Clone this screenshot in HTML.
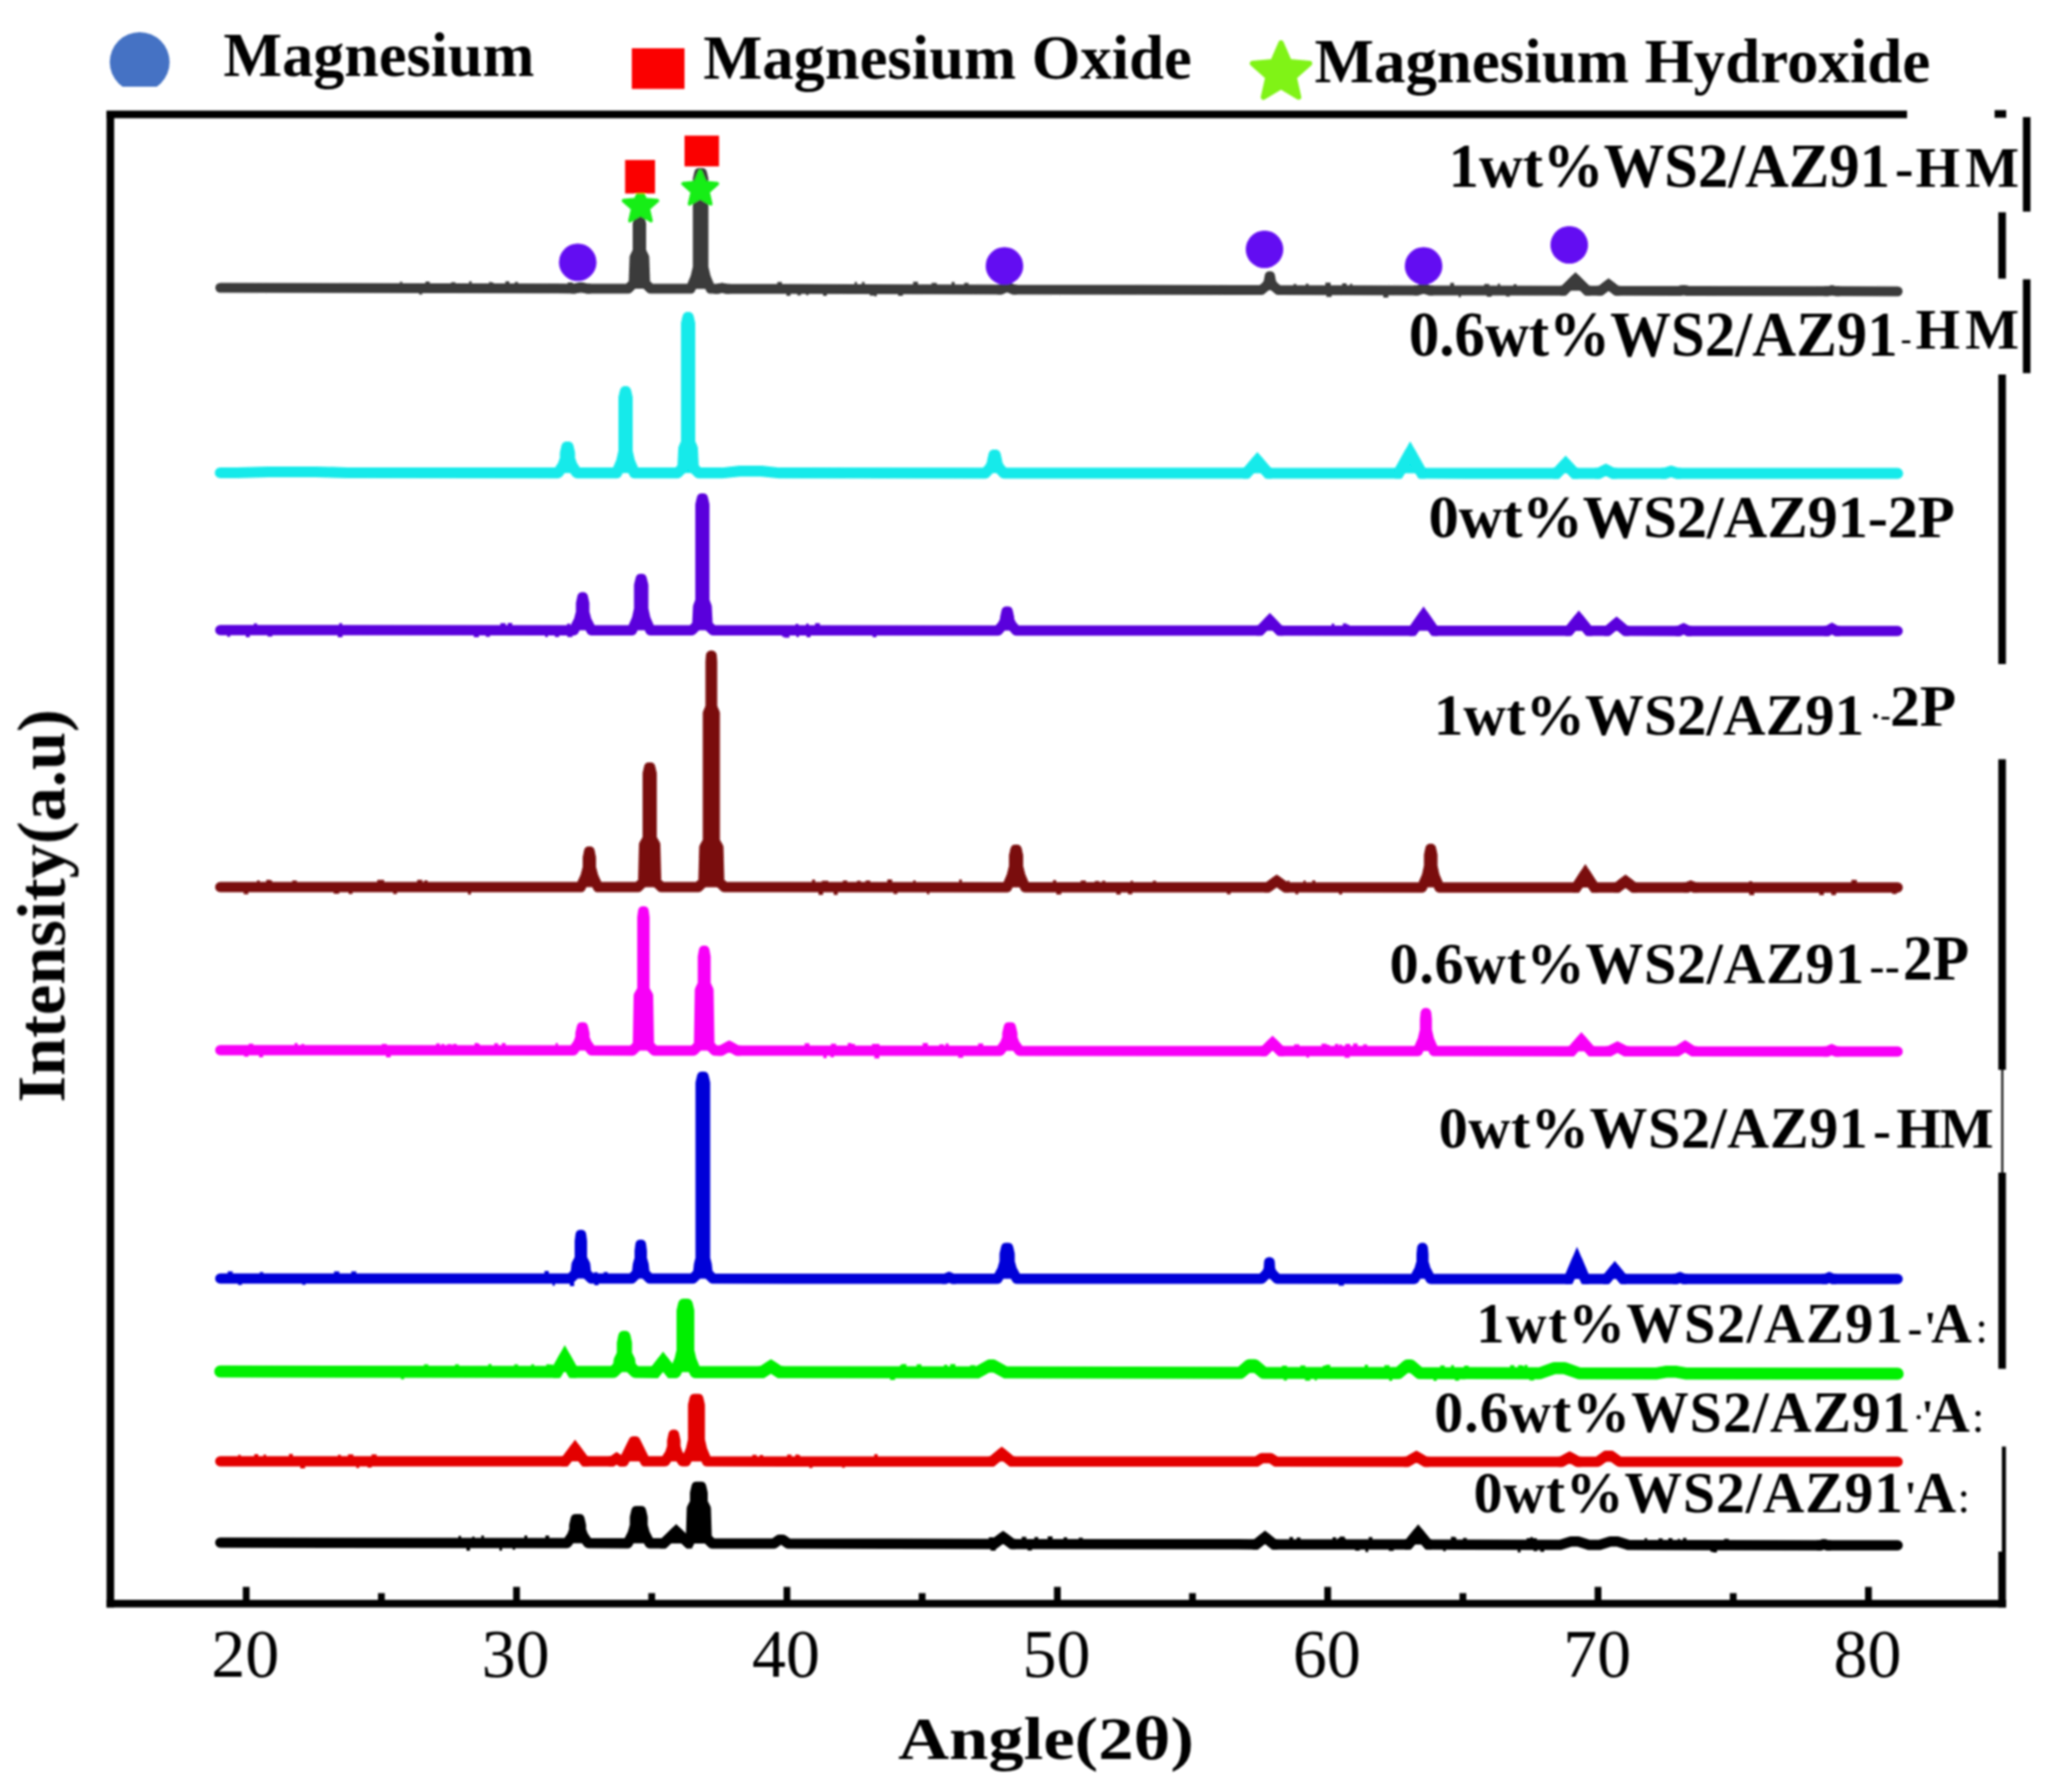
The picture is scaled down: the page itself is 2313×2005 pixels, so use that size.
<!DOCTYPE html>
<html lang="en"><head><meta charset="utf-8"><title>XRD patterns</title>
<style>
html,body{margin:0;padding:0;background:#fff;}
body{width:2313px;height:2005px;overflow:hidden;}
svg{display:block;}
text{font-family:"Liberation Serif",serif;fill:#000;}
.b{font-weight:bold;}
</style></head><body>
<svg width="2313" height="2005" viewBox="0 0 2313 2005">
<defs><filter id="soft" x="-2%" y="-2%" width="104%" height="104%"><feGaussianBlur stdDeviation="1.0"/></filter></defs>
<rect width="2313" height="2005" fill="#ffffff"/>
<g filter="url(#soft)">
<g stroke="#000" fill="none" stroke-width="8.5">
<path d="M123.5 124 V1798.6"/>
<path d="M119.3 128 H2134"/>
<path d="M2232 127.5 H2245"/>
<path d="M119.3 1794.3 H2244.9"/>
<path d="M2267.9 131 V236.8 M2267.9 312.6 V417.4"/>
<path d="M2240.4 237.6 V311.8 M2240.4 419 V743 M2240.4 849.5 V1197 M2240.4 1312 V1531.4 M2240.4 1736 V1798.6"/>
</g>
<path d="M2240.6 1197 V1312" stroke="#000" stroke-width="2.2" fill="none"/>
<path d="M2242.4 1618.5 V1736" stroke="#000" stroke-width="4.6" fill="none"/>
<path d="M275.5 1775.5 V1794 M578 1775.5 V1794 M880.6 1775.5 V1794 M1183.2 1775.5 V1794 M1485.7 1775.5 V1794 M1788.2 1775.5 V1794 M2090.8 1775.5 V1794 M426.8 1782.5 V1794 M729.3 1782.5 V1794 M1031.9 1782.5 V1794 M1334.4 1782.5 V1794 M1637 1782.5 V1794 M1939.5 1782.5 V1794" stroke="#000" stroke-width="7.6" fill="none"/>
<path d="M246.5 322 L643 322.9 L650 321.4 L657 322.9 L703 323 L709 317 L710 288 L713.5 281 L713.5 250.5 L715.1 243.5 L715.9 243.5 L717.5 250.5 L717.5 281 L721 288 L722 317 L728 323 L772.8 323.1 L778.2 310.1 L780.8 299.1 L780.8 200.5 L782.4 193.5 L785.6 193.5 L787.2 200.5 L787.2 299.1 L789.8 310.1 L795.2 323.1 L803 323.2 L808 322.2 L813 323.2 L1120 323.9 L1127 320.9 L1134 323.9 L1411.5 324.5 L1417 319.9 L1419.5 316 L1419.5 316 L1420.7 309 L1421.3 309 L1422.5 316 L1422.5 316 L1425 319.9 L1430.5 324.5 L1586 324.9 L1593 322.6 L1600 324.9 L1750 325.2 L1763 312.2 L1776 325.2 L1791 325.3 L1800 318.3 L1809 325.3 L1879 325.5 L1884 324.5 L1889 325.5 L2045 325.8 L2050 324.8 L2055 325.8 L2123.5 326" fill="#3b3b3b" stroke="#3b3b3b" stroke-width="11" stroke-linejoin="round" stroke-linecap="round"/><path d="M504.8 315.7h4.8v2.9h-4.8zM547.2 315.5h2.7v3.2h-2.7zM447.5 315.2h2.7v3.3h-2.7zM524.9 314.8h2.9v3.8h-2.9zM565.5 314.7h4.5v3.9h-4.5zM635.3 316.1h5.5v2.8h-5.5zM468.9 326.5h3.6v2.9h-3.6zM476.1 315h4.7v3.5h-4.7zM549.5 315.9h2.7v2.8h-2.7zM576.1 315.4h3.6v3.3h-3.6zM973.3 327.5h5.3v3.2h-5.3zM921 327.4h4.3v3.7h-4.3zM1042.4 316.5h5.9v3.2h-5.9zM964.5 315.5h3v4.1h-3zM869.8 315.4h5.2v3.9h-5.2zM1078.9 316.5h4.9v3.3h-4.9zM1005 327.6h5.4v3.5h-5.4zM978.5 327.6h2.7v3.9h-2.7zM1021.8 315.2h5.4v4.5h-5.4zM956.4 315.6h2.6v3.9h-2.6zM902 327.4h2.7v2.9h-2.7zM892.3 327.4h3.9v3.1h-3.9zM880.1 327.4h4.4v3.5h-4.4zM1064.8 315.5h3.5v4.3h-3.5zM1483.1 316.3h5.9v4.3h-5.9zM1461.1 317.5h3.3v3.1h-3.3zM1510.7 317.5h2.5v3.2h-2.5zM1484.3 328.6h5.8v3.7h-5.8zM1501.9 316.9h4.9v3.8h-4.9zM1547.9 328.8h5.6v4.1h-5.6zM1487.1 328.6h2.9v3.4h-2.9zM1447.5 317.7h3.2v2.8h-3.2zM1660.8 318.2h2.5v2.8h-2.5zM1632.2 329h2.6v3.4h-2.6zM1693.7 318.1h3.4v3h-3.4zM1663.7 329h5.5v2.9h-5.5zM1675.9 317.5h2.8v3.6h-2.8zM1661.1 317.8h5.4v3.2h-5.4zM1622.8 316.5h4.3v4.4h-4.3zM1685.2 329.1h4.3v2.7h-4.3z" fill="#3b3b3b"/><path d="M639 322.9 L643 322.9 L650 321.4 L657 322.9 L661 322.9 M799 323.2 L803 323.2 L808 322.2 L813 323.2 L817 323.2 M1116 323.9 L1120 323.9 L1127 320.9 L1134 323.9 L1138 323.9 M1582 324.9 L1586 324.9 L1593 322.6 L1600 324.9 L1604 324.9 M1746 325.2 L1750 325.2 L1763 312.2 L1776 325.2 L1780 325.2 M1787 325.3 L1791 325.3 L1800 318.3 L1809 325.3 L1813 325.3 M1875 325.5 L1879 325.5 L1884 324.5 L1889 325.5 L1893 325.5 M2041 325.8 L2045 325.8 L2050 324.8 L2055 325.8 L2059 325.8" fill="none" stroke="#3b3b3b" stroke-width="11" stroke-linejoin="miter" stroke-miterlimit="6" stroke-linecap="butt"/>
<path d="M246.5 529 L265 529 L301 528 L353 528 L389 529 L624.6 529.1 L630.1 520.4 L632.6 513.2 L632.6 507.1 L634.2 500.1 L635.8 500.1 L637.4 507.1 L637.4 513.2 L639.9 520.4 L645.4 529.1 L690.1 529.2 L695.6 516.2 L698.1 505.2 L698.1 445.1 L699.7 438.1 L700.3 438.1 L701.9 445.1 L701.9 505.2 L704.4 516.2 L709.9 529.2 L758.1 529.2 L764.1 523.2 L765.1 502 L768.1 495 L768.1 362.1 L769.7 355.1 L770.3 355.1 L771.9 362.1 L771.9 495 L774.9 502 L775.9 523.2 L781.9 529.2 L808 529.2 L828 527.1 L852 527.1 L872 529.2 L1102.6 529.3 L1108.1 523.3 L1110.6 518.2 L1110.6 516.1 L1112.2 509.1 L1113.8 509.1 L1115.4 516.1 L1115.4 518.2 L1117.9 523.3 L1123.4 529.3 L1395 529.4 L1407 515.2 L1419 529.4 L1565 529.5 L1578 506.2 L1591 529.5 L1742 529.6 L1752 518.8 L1762 529.6 L1789 529.6 L1797 525.6 L1805 529.6 L1863 529.6 L1870 527.4 L1877 529.6 L2123.5 529.7" fill="#12eaea" stroke="#12eaea" stroke-width="12.2" stroke-linejoin="round" stroke-linecap="round"/><path d="M1391 529.4 L1395 529.4 L1407 515.2 L1419 529.4 L1423 529.4 M1561 529.5 L1565 529.5 L1578 506.2 L1591 529.5 L1595 529.5 M1738 529.6 L1742 529.6 L1752 518.8 L1762 529.6 L1766 529.6 M1785 529.6 L1789 529.6 L1797 525.6 L1805 529.6 L1809 529.6 M1859 529.6 L1863 529.6 L1870 527.4 L1877 529.6 L1881 529.6" fill="none" stroke="#12eaea" stroke-width="12.2" stroke-linejoin="miter" stroke-miterlimit="6" stroke-linecap="butt"/>
<path d="M246.5 705 L642.2 705.2 L647.8 694.1 L650.2 684.9 L650.2 675.2 L651.7 668.2 L652.3 668.2 L653.8 675.2 L653.8 684.9 L656.2 694.1 L661.8 705.2 L707.2 705.3 L712.8 692.3 L715.2 681.3 L715.2 654.8 L716.9 647.8 L718.1 647.8 L719.8 654.8 L719.8 681.3 L722.2 692.3 L727.8 705.3 L774.2 705.3 L780.2 699.3 L781.2 679 L783.8 672 L783.8 564.8 L785.4 557.8 L786.6 557.8 L788.2 564.8 L788.2 672 L790.8 679 L791.8 699.3 L797.8 705.3 L1116.8 705.5 L1122.2 699.1 L1124.8 693.8 L1124.8 691.2 L1126.3 684.2 L1127.7 684.2 L1129.2 691.2 L1129.2 693.8 L1131.8 699.1 L1137.2 705.5 L1410 705.6 L1421 694.1 L1432 705.6 L1581 705.7 L1593 688.5 L1605 705.7 L1755.7 705.8 L1766.7 692.1 L1777.7 705.8 L1799 705.8 L1809 697.3 L1819 705.8 L1879 705.9 L1884 703.4 L1889 705.9 L2045 706 L2050 703.2 L2055 706 L2123.5 706" fill="#5a00dc" stroke="#5a00dc" stroke-width="11.5" stroke-linejoin="round" stroke-linecap="round"/><path d="M379.5 697.2h3.4v3.6h-3.4zM275.1 709.3h4.4v3.7h-4.4zM299.4 709.3h5.3v3h-5.3zM377.9 709.3h5.4v3.7h-5.4zM284 697.4h3.7v3.4h-3.7zM254.2 709.3h3.4v3.1h-3.4zM634.8 709.5h5.8v3.3h-5.8zM634.6 697.8h3.3v3.2h-3.3zM543.6 709.4h4.7v3h-4.7zM620.9 709.4h4.8v3.3h-4.8zM530.2 709.4h5.7v3.6h-5.7zM610 709.4h3.1v3.3h-3.1zM559.9 697.2h5.9v3.7h-5.9zM568.2 697h5v3.9h-5zM875.2 709.6h5.7v2.9h-5.7zM877.5 709.6h5.9v3.8h-5.9zM902 697.7h3v3.4h-3zM976.5 709.6h4.3v3.5h-4.3zM912.1 697.3h5.4v3.8h-5.4zM890.2 698h3.3v3.1h-3.3zM891.1 709.6h3v3.2h-3zM902.5 709.6h4.5v3.3h-4.5zM1502.6 697.5h4.3v3.9h-4.3zM1505.7 698.7h4v2.7h-4zM1490.1 697.7h3.1v3.7h-3.1z" fill="#5a00dc"/><path d="M1406 705.6 L1410 705.6 L1421 694.1 L1432 705.6 L1436 705.6 M1577 705.7 L1581 705.7 L1593 688.5 L1605 705.7 L1609 705.7 M1751.7 705.8 L1755.7 705.8 L1766.7 692.1 L1777.7 705.8 L1781.7 705.8 M1795 705.8 L1799 705.8 L1809 697.3 L1819 705.8 L1823 705.8 M1875 705.9 L1879 705.9 L1884 703.4 L1889 705.9 L1893 705.9 M2041 706 L2045 706 L2050 703.2 L2055 706 L2059 706" fill="none" stroke="#5a00dc" stroke-width="11.5" stroke-linejoin="miter" stroke-miterlimit="6" stroke-linecap="butt"/>
<path d="M246.5 992.5 L649.8 992.6 L655.2 980.7 L657.8 970.7 L657.8 959.8 L659.2 952.8 L659.8 952.8 L661.2 959.8 L661.2 970.7 L663.8 980.7 L669.2 992.6 L713.8 992.6 L719.8 986.6 L720.8 945 L724.8 938 L724.8 865.8 L726.4 858.8 L727.6 858.8 L729.2 865.8 L729.2 938 L733.2 945 L734.2 986.6 L740.2 992.6 L781.2 992.6 L787.2 986.6 L788.2 948 L792.2 941 L792.2 798 L795.2 791 L795.2 740.4 L795.7 733.4 L796.3 733.4 L796.8 740.4 L796.8 791 L799.8 798 L799.8 941 L803.8 948 L804.8 986.6 L810.8 992.6 L1126.8 992.7 L1132.2 980.1 L1134.8 969.6 L1134.8 957.8 L1136.3 950.8 L1137.7 950.8 L1139.2 957.8 L1139.2 969.6 L1141.8 980.1 L1147.2 992.7 L1418.7 992.8 L1428.7 985.6 L1438.7 992.8 L1591.2 992.9 L1596.8 979.9 L1599.2 969.1 L1599.2 956.8 L1600.7 949.8 L1601.3 949.8 L1602.8 956.8 L1602.8 969.1 L1605.2 979.9 L1610.8 992.9 L1764 992.9 L1774 977.4 L1784 992.9 L1810 992.9 L1819 985.9 L1828 992.9 L1888 992.9 L1892 991.2 L1896 992.9 L2123.5 993" fill="#7a0808" stroke="#7a0808" stroke-width="11.5" stroke-linejoin="round" stroke-linecap="round"/><path d="M474.8 984.9h3.6v3.4h-3.6zM422.2 984.6h2.9v3.7h-2.9zM327 985.2h5.2v3.1h-5.2zM424.1 984.6h5.7v3.7h-5.7zM439.9 996.8h4.3v3.4h-4.3zM390.2 996.8h4.2v3.4h-4.2zM466.8 984.5h5.8v3.8h-5.8zM423.4 984.4h5.4v3.9h-5.4zM287.7 985h2.8v3.3h-2.8zM272.7 996.8h5.2v3.6h-5.2zM297.9 984.6h4.8v3.6h-4.8zM523.7 996.8h3.3v4h-3.3zM373.5 996.8h6v3.3h-6zM300.1 985h4.3v3.3h-4.3zM943.1 985.2h5v3.3h-5zM1021.9 985h2.6v3.5h-2.6zM1037.3 997h2.7v3.6h-2.7zM1073.4 984h2.9v4.4h-2.9zM908.7 984.3h3.4v4.1h-3.4zM992.9 984.1h5.4v4.3h-5.4zM932.9 996.9h4.5v4.4h-4.5zM919.7 985.6h4.9v2.8h-4.9zM915.9 996.9h4.7v4.4h-4.7zM918.4 996.9h2.7v4.2h-2.7zM999.8 997h4.4v3.3h-4.4zM958.9 985.5h4.3v2.9h-4.3zM924.1 985.4h2.7v3h-2.7zM968.6 985.2h5.2v3.2h-5.2zM1290 985.6h3.7v2.9h-3.7zM1225.1 985.8h5.1v2.7h-5.1zM1209.3 985.2h5.8v3.3h-5.8zM1372.9 997.1h4.2v3.3h-4.2zM1262.2 997h4.9v3.4h-4.9zM1249.1 997h5v3.8h-5zM1265.2 985.4h2.7v3.2h-2.7zM1178.4 984.8h3.4v3.7h-3.4zM1182 997h5.5v3.8h-5.5zM1233.3 985.5h3.5v3h-3.5zM1449.5 997.1h3.4v3.5h-3.4zM1498.4 997.1h3.4v3.7h-3.4zM1458.6 985.2h2.5v3.3h-2.5zM1468.5 985h3.2v3.6h-3.2zM1440.3 985.4h2.8v3.2h-2.8zM1957.1 986h3.6v2.7h-3.6zM2049.5 997.2h5.1v3.7h-5.1zM2071.7 984.5h3.9v4.3h-3.9zM2117.4 997.2h5v3h-5zM1957.4 997.2h5.6v4.2h-5.6zM2074.8 984.6h3v4.2h-3zM2035.7 997.2h5.3v4.2h-5.3zM2049.3 997.2h4.9v4.3h-4.9z" fill="#7a0808"/><path d="M1414.7 992.8 L1418.7 992.8 L1428.7 985.6 L1438.7 992.8 L1442.7 992.8 M1760 992.9 L1764 992.9 L1774 977.4 L1784 992.9 L1788 992.9 M1806 992.9 L1810 992.9 L1819 985.9 L1828 992.9 L1832 992.9 M1884 992.9 L1888 992.9 L1892 991.2 L1896 992.9 L1900 992.9" fill="none" stroke="#7a0808" stroke-width="11.5" stroke-linejoin="miter" stroke-miterlimit="6" stroke-linecap="butt"/>
<path d="M246.5 1175 L641.5 1175.3 L647 1167.6 L649.5 1161.1 L649.5 1156.5 L651.1 1149.5 L652.4 1149.5 L654 1156.5 L654 1161.1 L656.5 1167.6 L662 1175.3 L707.8 1175.4 L713.8 1169.4 L714.8 1114 L718.8 1107 L718.8 1026.8 L719.7 1019.8 L720.3 1019.8 L721.2 1026.8 L721.2 1107 L725.2 1114 L726.2 1169.4 L732.2 1175.4 L776.2 1175.4 L782.2 1169.4 L783.2 1108 L786.5 1101 L786.5 1070.8 L787.7 1063.8 L788.3 1063.8 L789.5 1070.8 L789.5 1101 L792.8 1108 L793.8 1169.4 L799.8 1175.4 L807 1175.5 L816 1170.5 L825 1175.5 L1119.2 1175.7 L1124.8 1167.8 L1127.2 1161.3 L1127.2 1156.5 L1128.8 1149.5 L1131.2 1149.5 L1132.8 1156.5 L1132.8 1161.3 L1135.2 1167.8 L1140.8 1175.7 L1415 1175.9 L1424 1166.9 L1433 1175.9 L1586.6 1176.1 L1592.1 1163.3 L1594.6 1152.6 L1594.6 1140.5 L1595.3 1133.5 L1595.9 1133.5 L1596.6 1140.5 L1596.6 1152.6 L1599.1 1163.3 L1604.6 1176.1 L1758.6 1176.2 L1769.6 1163.5 L1780.6 1176.2 L1801 1176.2 L1810 1171.5 L1819 1176.2 L1876.7 1176.3 L1885.7 1170.6 L1894.7 1176.3 L2044.7 1176.4 L2049.7 1174.2 L2054.7 1176.4 L2123.5 1176.5" fill="#f700f7" stroke="#f700f7" stroke-width="11.5" stroke-linejoin="round" stroke-linecap="round"/><path d="M337.4 1168.1h3v2.7h-3zM289.9 1179.3h4.5v3.8h-4.5zM488 1167.4h4.2v3.6h-4.2zM553.1 1167.3h4.3v3.7h-4.3zM500.5 1168.2h5.1v2.8h-5.1zM278.3 1167.7h5.1v3h-5.1zM531.1 1167h4.2v4h-4.2zM432 1179.4h5.2v3.6h-5.2zM494.2 1168.1h3v2.8h-3zM532.4 1167.9h4.5v3.1h-4.5zM273.1 1179.3h4.9v3h-4.9zM506.8 1167.9h4.3v3.1h-4.3zM427.2 1168h5.6v2.9h-5.6zM621.7 1167.1h2.6v3.9h-2.6zM561.6 1167h4.1v4h-4.1zM329.7 1166.9h3.2v3.9h-3.2zM929.8 1167.7h5.8v3.6h-5.8zM1072.2 1179.9h5.6v3.6h-5.6zM948.6 1167h4.2v4.3h-4.2zM900.8 1167.7h4.1v3.6h-4.1zM929.5 1179.8h3.6v3.3h-3.6zM900.4 1167.2h5.4v4.1h-5.4zM1094.5 1167.4h5.7v4h-5.7zM978.2 1167.9h6v3.4h-6zM975.7 1167.9h3.5v3.5h-3.5zM921.4 1179.8h3.5v4.2h-3.5zM952.4 1168.1h4.3v3.2h-4.3zM978.4 1179.8h5.6v4.4h-5.6zM1032.5 1167h5.8v4.3h-5.8zM1051.1 1168.6h5.1v2.8h-5.1zM1058.1 1167.5h3.5v3.9h-3.5zM1094.6 1168.5h4.2v2.9h-4.2zM1478.7 1167.7h5.9v4h-5.9zM1525.3 1168.5h4.5v3.2h-4.5zM1461.8 1180.2h3.2v3h-3.2zM1504.6 1180.3h5.7v3.1h-5.7zM1498.5 1168.8h3.2v3h-3.2zM1484.5 1168.9h3.3v2.9h-3.3zM1514.1 1167.5h5.1v4.3h-5.1zM1493.8 1168.1h3.8v3.6h-3.8zM1448.1 1168.5h5.9v3.2h-5.9zM1505.4 1167.9h5.5v3.8h-5.5z" fill="#f700f7"/><path d="M803 1175.5 L807 1175.5 L816 1170.5 L825 1175.5 L829 1175.5 M1411 1175.9 L1415 1175.9 L1424 1166.9 L1433 1175.9 L1437 1175.9 M1754.6 1176.2 L1758.6 1176.2 L1769.6 1163.5 L1780.6 1176.2 L1784.6 1176.2 M1797 1176.2 L1801 1176.2 L1810 1171.5 L1819 1176.2 L1823 1176.2 M1872.7 1176.3 L1876.7 1176.3 L1885.7 1170.6 L1894.7 1176.3 L1898.7 1176.3 M2040.7 1176.4 L2044.7 1176.4 L2049.7 1174.2 L2054.7 1176.4 L2058.7 1176.4" fill="none" stroke="#f700f7" stroke-width="11.5" stroke-linejoin="miter" stroke-miterlimit="6" stroke-linecap="butt"/>
<path d="M246.5 1430.5 L638.2 1430.6 L644.2 1424.6 L645.2 1415 L648.8 1408 L648.8 1388.8 L649.7 1381.8 L650.3 1381.8 L651.2 1388.8 L651.2 1408 L654.8 1415 L655.8 1424.6 L661.8 1430.6 L706.8 1430.6 L712.8 1424.6 L713.8 1415 L715.8 1408 L715.8 1399.8 L716.7 1392.8 L717.3 1392.8 L718.2 1399.8 L718.2 1408 L720.2 1415 L721.2 1424.6 L727.2 1430.6 L775.2 1430.6 L781.2 1424.6 L782.2 1415 L784 1408 L784 1211.8 L785.6 1204.8 L787.4 1204.8 L789 1211.8 L789 1408 L790.8 1415 L791.8 1424.6 L797.8 1430.6 L1058 1430.7 L1062 1429 L1066 1430.7 L1116.2 1430.7 L1121.8 1420.4 L1124.2 1411.8 L1124.2 1403.3 L1125.8 1396.3 L1128.2 1396.3 L1129.8 1403.3 L1129.8 1411.8 L1132.2 1420.4 L1137.8 1430.7 L1411.8 1430.8 L1417.2 1425.3 L1419.8 1420.7 L1419.8 1419.3 L1420.2 1412.3 L1420.8 1412.3 L1421.2 1419.3 L1421.2 1420.7 L1423.8 1425.3 L1429.2 1430.8 L1582.8 1430.9 L1588.3 1420.5 L1590.8 1411.9 L1590.8 1403.3 L1591.5 1396.3 L1592.1 1396.3 L1592.8 1403.3 L1592.8 1411.9 L1595.3 1420.5 L1600.8 1430.9 L1755.7 1430.9 L1764.7 1409.7 L1773.7 1430.9 L1798 1430.9 L1807 1419.9 L1816 1430.9 L1876 1430.9 L1880 1429.2 L1884 1430.9 L2043 1431 L2047 1429.2 L2051 1431 L2123.5 1431" fill="#0000d8" stroke="#0000d8" stroke-width="11.5" stroke-linejoin="round" stroke-linecap="round"/><path d="M290.7 1423.2h3.9v3h-3.9zM393.1 1422.5h5.6v3.8h-5.6zM254.8 1422.6h5.6v3.6h-5.6zM338.1 1434.8h3.9v2.7h-3.9zM373.8 1422.5h5.9v3.8h-5.9zM266.4 1434.8h4.3v2.9h-4.3zM637.7 1434.9h4.8v4h-4.8zM618.3 1434.8h2.6v3.7h-2.6zM609.3 1422h4.8v4.4h-4.8zM665.1 1434.9h4.7v3.2h-4.7zM664.5 1423.5h4.3v2.8h-4.3zM675.5 1423.3h4.6v3.1h-4.6zM1498 1435.1h5.9v3.5h-5.9z" fill="#0000d8"/><path d="M1751.7 1430.9 L1755.7 1430.9 L1764.7 1409.7 L1773.7 1430.9 L1777.7 1430.9 M1794 1430.9 L1798 1430.9 L1807 1419.9 L1816 1430.9 L1820 1430.9 M1872 1430.9 L1876 1430.9 L1880 1429.2 L1884 1430.9 L1888 1430.9 M2039 1431 L2043 1431 L2047 1429.2 L2051 1431 L2055 1431 M1054 1430.7 L1058 1430.7 L1062 1429 L1066 1430.7 L1070 1430.7" fill="none" stroke="#0000d8" stroke-width="11.5" stroke-linejoin="miter" stroke-miterlimit="6" stroke-linecap="butt"/>
<path d="M246.5 1534.5 L623 1535 L632 1518.8 L641 1535 L686.5 1535.1 L692.5 1529.1 L693.5 1522 L697 1515 L697 1502.8 L698.4 1495.8 L699 1495.8 L700.5 1502.8 L700.5 1515 L704 1522 L705 1529.1 L711 1535.1 L733 1535.2 L742 1523.4 L751 1535.2 L755.8 1535.2 L761.2 1522.2 L763.8 1511.2 L763.8 1466.8 L765.4 1459.8 L768.6 1459.8 L770.2 1466.8 L770.2 1511.2 L772.8 1522.2 L778.2 1535.2 L852.7 1535.3 L862.7 1528.8 L872.7 1535.3 L1093.4 1535.6 L1107.4 1527.8 L1111.4 1527.8 L1125.4 1535.6 L1388 1536 L1398 1527.5 L1404 1527.5 L1414 1536 L1564.7 1536.3 L1574.7 1527.8 L1578.7 1527.8 L1588.7 1536.3 L1723 1536.5 L1739 1530.8 L1751 1530.8 L1767 1536.5 L1854 1536.7 L1864 1534.8 L1876 1534.8 L1886 1536.7 L2123.5 1537" fill="#00f000" stroke="#00f000" stroke-width="13.5" stroke-linejoin="round" stroke-linecap="round"/><path d="M594.4 1526.6h3.3v3.1h-3.3zM611.3 1526.5h3.6v3.3h-3.6zM509.6 1526.4h4v3.2h-4zM546.8 1526.2h3.3v3.4h-3.3zM474.4 1526.5h4.9v3h-4.9zM575.4 1526.4h4.3v3.3h-4.3zM613.4 1526.8h5.4v2.9h-5.4zM448.7 1540h3.5v3.3h-3.5zM509.1 1526.7h3.3v2.8h-3.3zM546.4 1526.2h3v3.5h-3zM1011.3 1526.3h3v4h-3zM996 1540.7h5.6v3.2h-5.6zM1063.3 1526.3h5.8v4h-5.8zM1008.6 1526.3h5.1v3.9h-5.1zM1056.4 1527.1h3.8v3.2h-3.8zM1006.9 1527.6h3.5v2.7h-3.5zM1085.6 1527.5h5.9v2.9h-5.9zM1025.7 1526.5h5.4v3.8h-5.4zM1436.4 1541.3h3.8v3.3h-3.8zM1455.1 1527.7h5.6v3.2h-5.6zM1483.4 1527.1h5.2v3.8h-5.2zM1434.5 1528.1h5.7v2.8h-5.7zM1527.1 1527.1h3.7v3.9h-3.7zM1554.5 1541.5h3.4v3.5h-3.4zM1471.1 1541.4h2.5v3.1h-2.5zM1549.1 1527.5h5.8v3.5h-5.8zM1460.4 1541.4h5.8v3.3h-5.8zM1480.2 1527.9h4v3h-4zM1711.4 1541.7h5.3v2.9h-5.3zM1698.7 1527.5h4.6v3.7h-4.6zM1638.3 1527.9h5.2v3.2h-5.2zM1623.7 1527.4h3.4v3.7h-3.4zM1604.1 1541.6h3.6v3.4h-3.6zM1706 1527.2h3.4v4h-3.4zM1611.6 1527.7h5v3.3h-5zM1628.1 1541.6h4.7v3.2h-4.7zM1689.8 1527.4h4.8v3.8h-4.8zM1700.9 1528.1h4.5v3.1h-4.5z" fill="#00f000"/><path d="M619 1535 L623 1535 L632 1518.8 L641 1535 L645 1535 M729 1535.2 L733 1535.2 L742 1523.4 L751 1535.2 L755 1535.2 M848.7 1535.3 L852.7 1535.3 L862.7 1528.8 L872.7 1535.3 L876.7 1535.3" fill="none" stroke="#00f000" stroke-width="13.5" stroke-linejoin="miter" stroke-miterlimit="6" stroke-linecap="butt"/>
<path d="M246.5 1635 L632.5 1635.1 L643.5 1620.4 L654.5 1635.1 L685 1635.1 L690 1631.6 L695 1635.1 L698 1635.1 L709 1612.8 L711 1612.8 L722 1635.1 L744.2 1635.1 L749.8 1626.2 L752.2 1618.8 L752.2 1612.3 L753.7 1605.3 L754.3 1605.3 L755.8 1612.3 L755.8 1618.8 L758.2 1626.2 L763.8 1635.1 L767.6 1635.1 L773.1 1622.1 L775.6 1611.1 L775.6 1572.3 L777.2 1565.3 L781.5 1565.3 L783.1 1572.3 L783.1 1611.1 L785.6 1622.1 L791.1 1635.1 L1110 1635.2 L1121 1626 L1132 1635.2 L1406 1635.3 L1412 1631.5 L1422 1631.5 L1428 1635.3 L1575 1635.4 L1585 1629.6 L1595 1635.4 L1747.5 1635.4 L1756.5 1630.4 L1765.5 1635.4 L1788 1635.4 L1797 1628.8 L1803 1628.8 L1812 1635.4 L2123.5 1635.5" fill="#e30000" stroke="#e30000" stroke-width="11.5" stroke-linejoin="round" stroke-linecap="round"/><path d="M378.1 1627.8h3.4v3h-3.4zM284.5 1626.9h4.5v3.8h-4.5zM323.4 1626.8h4.3v4h-4.3zM389.4 1627.2h6v3.5h-6zM336 1639.3h5.4v3.8h-5.4zM266.5 1627.7h2.9v3.1h-2.9zM415.7 1627.3h5.8v3.5h-5.8zM398.6 1639.3h3.4v3.3h-3.4zM411.3 1639.3h4.6v2.8h-4.6zM294.8 1627.6h3v3.2h-3zM880.8 1627.4h4.8v3.5h-4.8zM841.8 1627.8h4.9v3.1h-4.9zM890 1628h5.3v3h-5.3zM850.1 1628.1h3.9v2.8h-3.9zM942.3 1639.4h3.1v2.8h-3.1zM905.6 1639.4h3.6v3.1h-3.6zM890 1627.5h3.8v3.4h-3.8zM978.3 1626.9h3.8v4h-3.8z" fill="#e30000"/><path d="M628.5 1635.1 L632.5 1635.1 L643.5 1620.4 L654.5 1635.1 L658.5 1635.1 M681 1635.1 L685 1635.1 L690 1631.6 L695 1635.1 L699 1635.1 M1106 1635.2 L1110 1635.2 L1121 1626 L1132 1635.2 L1136 1635.2 M1571 1635.4 L1575 1635.4 L1585 1629.6 L1595 1635.4 L1599 1635.4 M1743.5 1635.4 L1747.5 1635.4 L1756.5 1630.4 L1765.5 1635.4 L1769.5 1635.4" fill="none" stroke="#e30000" stroke-width="11.5" stroke-linejoin="miter" stroke-miterlimit="6" stroke-linecap="butt"/>
<path d="M246.5 1726 L634.6 1726.6 L640.1 1718.6 L642.6 1711.9 L642.6 1706.8 L644.2 1699.8 L648.5 1699.8 L650.1 1706.8 L650.1 1711.9 L652.6 1718.6 L658.1 1726.6 L702.5 1726.7 L708 1715.9 L710.5 1706.9 L710.5 1697.8 L712.1 1690.8 L717.4 1690.8 L719 1697.8 L719 1706.9 L721.5 1715.9 L727 1726.7 L742.7 1726.8 L756.7 1713.3 L770.7 1726.8 L773.2 1720.9 L774.2 1688 L777.8 1681 L777.8 1670.5 L779.4 1663.5 L784.6 1663.5 L786.2 1670.5 L786.2 1681 L789.8 1688 L790.8 1720.9 L796.8 1726.9 L866 1727 L872 1722.8 L876 1722.8 L882 1727 L1112.5 1727.4 L1122.5 1719.9 L1132.5 1727.4 L1405.6 1727.9 L1415.6 1719.9 L1425.6 1727.9 L1576 1728.1 L1587 1714.6 L1598 1728.1 L1746 1728.4 L1758 1724.8 L1766 1724.8 L1778 1728.4 L1790 1728.5 L1802 1724.8 L1810 1724.8 L1822 1728.5 L2037 1728.9 L2041 1727.9 L2045 1728.9 L2123.5 1729" fill="#000000" stroke="#000000" stroke-width="11.5" stroke-linejoin="round" stroke-linecap="round"/><path d="M573.8 1730.8h2.5v3.1h-2.5zM522 1730.7h3.9v4.2h-3.9zM528.4 1719.2h2.6v3h-2.6zM558.9 1730.7h2.8v4.3h-2.8zM513 1718.6h3v3.6h-3zM538.6 1717.9h2.9v4.4h-2.9zM586.8 1717.9h3.2v4.4h-3.2zM610.3 1717.9h4.2v4.5h-4.2zM1108.5 1731.6h5.7v3.4h-5.7zM1106.5 1720.1h5.3v3h-5.3zM1172.4 1719h5.4v4.2h-5.4zM1157.5 1719.8h4.3v3.4h-4.3zM1149.8 1731.7h5v3.1h-5zM1143.3 1719.5h5.2v3.7h-5.2zM1207.1 1720.4h4.6v2.9h-4.6zM1190.2 1720h4v3.3h-4zM1491.1 1719.9h4.1v3.9h-4.1zM1442.8 1719.8h4.2v3.8h-4.2zM1531.6 1719.7h4.1v4.1h-4.1zM1496.8 1720.9h2.9v2.9h-2.9zM1451 1720.2h4.3v3.5h-4.3zM1516.4 1732.3h5.1v2.8h-5.1zM1501.4 1721h4.3v2.8h-4.3zM1554.1 1732.3h5.5v2.9h-5.5zM1527.9 1732.3h3.2v4.2h-3.2zM1499 1719.3h5.7v4.4h-5.7zM1712.5 1719.7h2.7v4.4h-2.7zM1708.3 1721.1h5.6v3h-5.6zM1716 1732.6h4.3v3h-4.3zM1637.1 1720.8h4.3v3.2h-4.3zM1614.8 1732.4h3.1v3h-3.1zM1698.4 1732.6h3.1v4.3h-3.1zM1625 1720.3h4.7v3.7h-4.7zM1723.5 1732.6h4.5v3.7h-4.5zM1623.6 1719.5h4.7v4.5h-4.7zM1713.7 1720.9h6v3.2h-6zM1883.2 1720.7h4v3.7h-4zM1929.2 1721.7h5.4v2.8h-5.4zM1916.7 1732.9h4.6v4h-4.6zM1877.5 1721.7h2.6v2.7h-2.6zM1913.9 1732.9h4.3v3.3h-4.3zM1855.8 1721.3h4.8v3h-4.8zM1840.3 1721.1h2.9v3.2h-2.9zM1866.9 1720.9h4.6v3.5h-4.6z" fill="#000000"/><path d="M738.7 1726.8 L742.7 1726.8 L756.7 1713.3 L770.7 1726.8 L774.7 1726.8 M1108.5 1727.4 L1112.5 1727.4 L1122.5 1719.9 L1132.5 1727.4 L1136.5 1727.4 M1401.6 1727.9 L1405.6 1727.9 L1415.6 1719.9 L1425.6 1727.9 L1429.6 1727.9 M1572 1728.1 L1576 1728.1 L1587 1714.6 L1598 1728.1 L1602 1728.1 M2033 1728.9 L2037 1728.9 L2041 1727.9 L2045 1728.9 L2049 1728.9" fill="none" stroke="#000000" stroke-width="11.5" stroke-linejoin="miter" stroke-miterlimit="6" stroke-linecap="butt"/>
<circle cx="646.5" cy="293.5" r="21" fill="#6408f2"/>
<circle cx="1124" cy="297.5" r="21" fill="#6408f2"/>
<circle cx="1415" cy="279" r="21" fill="#6408f2"/>
<circle cx="1593" cy="297.5" r="21" fill="#6408f2"/>
<circle cx="1756" cy="274" r="21" fill="#6408f2"/>
<polygon points="716.7,210.7 722.1,223.3 735.7,224.5 725.4,233.5 728.5,246.9 716.7,239.9 704.9,246.9 708,233.5 697.7,224.5 711.3,223.3" fill="#18ee18" stroke="#18ee18" stroke-width="4" stroke-linejoin="round"/>
<polygon points="783.5,191.6 789,204.3 802.7,205.6 792.3,214.7 795.4,228.1 783.5,221.1 771.6,228.1 774.7,214.7 764.3,205.6 778,204.3" fill="#18ee18" stroke="#18ee18" stroke-width="4" stroke-linejoin="round"/>
<rect x="699.5" y="179" width="33.5" height="37.5" fill="#fb0000"/>
<rect x="766" y="151.7" width="38.6" height="34.5" fill="#fb0000"/>
<clipPath id="cc"><rect x="100" y="20" width="120" height="76.5"/></clipPath>
<circle cx="156.3" cy="69.5" r="33.5" fill="#4472c4" clip-path="url(#cc)"/>
<rect x="707" y="54" width="59" height="45.5" fill="#fb0000"/>
<polygon points="1433.5,48 1442.6,69 1465.4,71.1 1448.2,86.3 1453.2,108.6 1433.5,96.9 1413.8,108.6 1418.8,86.3 1401.6,71.1 1424.4,69" fill="#80f318" stroke="#80f318" stroke-width="6" stroke-linejoin="round"/>
<text class="b" x="250" y="84.8" font-size="70" textLength="348" lengthAdjust="spacingAndGlyphs">Magnesium</text>
<text class="b" x="787" y="88" font-size="70" textLength="546.5" lengthAdjust="spacingAndGlyphs">Magnesium Oxide</text>
<text class="b" x="1471" y="92" font-size="70" textLength="689" lengthAdjust="spacingAndGlyphs">Magnesium Hydroxide</text>
<text class="b" x="1621" y="209" font-size="70.5" textLength="494" lengthAdjust="spacingAndGlyphs">1wt%WS2/AZ91</text>
<text class="b" x="2120.5" y="209" font-size="62">-</text>
<text class="b" x="2143.5" y="209" font-size="64" textLength="116" lengthAdjust="spacing">HM</text>
<text class="b" x="1576.5" y="397.5" font-size="71" textLength="547" lengthAdjust="spacingAndGlyphs">0.6wt%WS2/AZ91</text>
<text class="b" x="2127" y="391" font-size="36">-</text>
<text class="b" x="2143.5" y="389.5" font-size="64" textLength="116" lengthAdjust="spacing">HM</text>
<text class="b" x="1598.5" y="601" font-size="68" textLength="589" lengthAdjust="spacing">0wt%WS2/AZ91-2P</text>
<text class="b" x="1604.5" y="822" font-size="66" textLength="481.5" lengthAdjust="spacing">1wt%WS2/AZ91</text>
<text class="b" x="2093" y="812" font-size="34">·-</text>
<text class="b" x="2115" y="812" font-size="66.5" textLength="74" lengthAdjust="spacingAndGlyphs">2P</text>
<text class="b" x="1555" y="1100" font-size="65" textLength="531" lengthAdjust="spacing">0.6wt%WS2/AZ91</text>
<text class="b" x="2092" y="1098" font-size="50" textLength="34" lengthAdjust="spacing">--</text>
<text class="b" x="2129.5" y="1096" font-size="71" textLength="74" lengthAdjust="spacingAndGlyphs">2P</text>
<text class="b" x="1610" y="1283.5" font-size="65" textLength="480" lengthAdjust="spacing">0wt%WS2/AZ91</text>
<text class="b" x="2096" y="1283.5" font-size="60">-</text>
<text class="b" x="2122" y="1283.5" font-size="64" textLength="109" lengthAdjust="spacing">HM</text>
<text class="b" x="1652" y="1502" font-size="63" textLength="477.5" lengthAdjust="spacing">1wt%WS2/AZ91</text>
<text class="b" x="2134.5" y="1503" font-size="50">-</text>
<text class="b" x="2153" y="1502" font-size="50">'</text>
<text class="b" x="2161" y="1502" font-size="63">A</text>
<text class="b" x="2210.5" y="1502" font-size="50" style="font-weight:normal">:</text>
<text class="b" x="1605" y="1601.7" font-size="64.5" textLength="533" lengthAdjust="spacing">0.6wt%WS2/AZ91</text>
<text class="b" x="2142" y="1595" font-size="30">·</text>
<text class="b" x="2150" y="1601" font-size="50">'</text>
<text class="b" x="2158" y="1601.5" font-size="64">A</text>
<text class="b" x="2206.5" y="1601.5" font-size="50" style="font-weight:normal">:</text>
<text class="b" x="1649" y="1691.5" font-size="64.5" textLength="480.5" lengthAdjust="spacing">0wt%WS2/AZ91</text>
<text class="b" x="2131" y="1692" font-size="50">'</text>
<text class="b" x="2142" y="1692" font-size="65">A</text>
<text class="b" x="2190.5" y="1692" font-size="50" style="font-weight:normal">:</text>
<text x="274.5" y="1876" font-size="76" text-anchor="middle">20</text>
<text x="577" y="1876" font-size="76" text-anchor="middle">30</text>
<text x="879.6" y="1876" font-size="76" text-anchor="middle">40</text>
<text x="1182.2" y="1876" font-size="76" text-anchor="middle">50</text>
<text x="1484.7" y="1876" font-size="76" text-anchor="middle">60</text>
<text x="1787.2" y="1876" font-size="76" text-anchor="middle">70</text>
<text x="2089.8" y="1876" font-size="76" text-anchor="middle">80</text>
<text class="b" x="1005" y="1967.5" font-size="68" textLength="331" lengthAdjust="spacingAndGlyphs">Angle(2θ)</text>
<text class="b" transform="translate(72 1233.5) rotate(-90)" font-size="77" textLength="440" lengthAdjust="spacingAndGlyphs">Intensity(a.u)</text>
</g>
</svg>
</body></html>
